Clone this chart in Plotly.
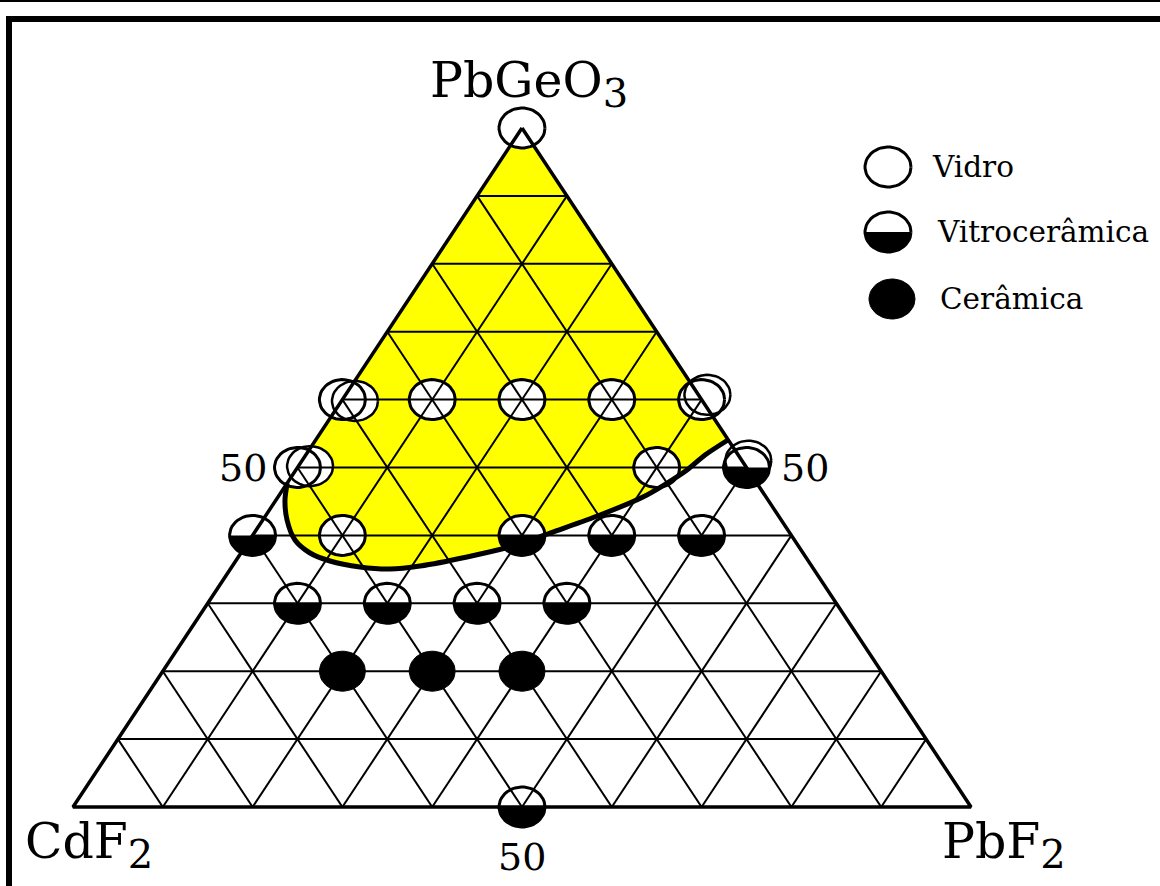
import numpy as np
import plotly.graph_objects as go

# ---------------- data (compositions in mol %) ----------------
vertex_labels = ["PbGeO<sub><span style='font-size:40px'>3</span></sub>",
                 "CdF<sub><span style='font-size:40px'>2</span></sub>",
                 "PbF<sub><span style='font-size:40px'>2</span></sub>"]
edge_tick_label = "50"
legend_labels = ["Vidro", "Vitrocerâmica", "Cerâmica"]

# PbGeO3 content and PbF2 content of each sample (CdF2 = 100 - both)
vidro_pbgeo3 = [100, 60, 60, 60, 60, 60, 50, 50, 40]
vidro_pbf2 = [0, 0, 10, 20, 30, 40, 0, 40, 10]
vitro_pbgeo3 = [50, 40, 40, 40, 40, 30, 30, 30, 30, 0]
vitro_pbf2 = [50, 0, 30, 40, 50, 10, 20, 30, 40, 50]
ceram_pbgeo3 = [20, 20, 20]
ceram_pbf2 = [20, 30, 40]

# slightly displaced duplicate circles drawn on the edges of the original figure
dup_pbgeo3 = [59.8, 50.2, 60.7, 51.0]
dup_pbf2 = [1.5, 1.3, 40.3, 49.7]

# boundary of the glass-forming (yellow) region
boundary_pbgeo3 = [54.05, 51.84, 49.63, 47.42, 45.66, 43.0, 40.35, 38.59, 36.82, 35.49,
                   35.05, 35.35, 36.23, 37.41, 39.32, 42.27, 45.21, 47.72]
boundary_pbf2 = [45.91, 44.46, 43.56, 42.10, 40.64, 37.19, 32.95, 30.15, 25.47, 20.90,
                 17.78, 14.28, 10.50, 7.69, 5.06, 2.70, 1.00, 0.0]

grid_step = 10

# ---------------- layout constants ----------------
W, H = 1160, 886
X0_PX, Y0_PX = 73.0, 807.0       # pixel of CdF2 corner
SX, SY = 8.98, 6.79              # pixels per composition unit
RX, RY = 23.0, 20.0              # marker half-width / half-height in px


def tern(a, b):
    a = np.asarray(a, float)
    b = np.asarray(b, float)
    return b + a / 2.0, a


def px2data(px, py):
    return (px - X0_PX) / SX, (Y0_PX - py) / SY


def ellipse_path(cx, cy, t0=0.0, t1=2 * np.pi, n=48):
    t = np.linspace(t0, t1, n)
    return list(cx + RX * np.cos(t) / SX), list(cy + RY * np.sin(t) / SY)


def many(xs, ys, t0=0.0, t1=2 * np.pi):
    X, Y = [], []
    for cx, cy in zip(xs, ys):
        ex, ey = ellipse_path(cx, cy, t0, t1)
        X += ex + [ex[0], None]
        Y += ey + [ey[0], None]
    return X, Y


fig = go.Figure()

# yellow glass region
bx, by = tern(boundary_pbgeo3, boundary_pbf2)
ax_, ay_ = tern([100], [0])
fx = [ax_[0]] + list(bx) + [ax_[0]]
fy = [ay_[0]] + list(by) + [ay_[0]]
fig.add_trace(go.Scatter(x=fx, y=fy, mode="lines", fill="toself", fillcolor="#FFFF00",
                         line=dict(width=0, color="#FFFF00"), hoverinfo="skip"))

vx, vy = tern(vidro_pbgeo3, vidro_pbf2)
tx, ty = tern(vitro_pbgeo3, vitro_pbf2)
cx_, cy_ = tern(ceram_pbgeo3, ceram_pbf2)
dx_, dy_ = tern(dup_pbgeo3, dup_pbf2)

# white discs under the grid
wx, wy = many(list(dx_) + list(vx) + list(tx), list(dy_) + list(vy) + list(ty))
fig.add_trace(go.Scatter(x=wx, y=wy, mode="lines", fill="toself", fillcolor="white",
                         line=dict(width=0, color="white"), hoverinfo="skip"))

# grid lines
gx, gy = [], []
for k in range(grid_step, 100, grid_step):
    x1, y1 = tern([k, k], [0, 100 - k])            # constant PbGeO3
    gx += list(x1) + [None]; gy += list(y1) + [None]
    x2, y2 = tern([0, 100 - k], [k, k])            # constant PbF2
    gx += list(x2) + [None]; gy += list(y2) + [None]
    x3, y3 = tern([0, 100 - k], [100 - k, 0])      # constant CdF2
    gx += list(x3) + [None]; gy += list(y3) + [None]
fig.add_trace(go.Scatter(x=gx, y=gy, mode="lines", line=dict(color="black", width=2),
                         hoverinfo="skip"))

# triangle outline
ox, oy = tern([100, 0, 0, 100], [0, 0, 100, 0])
fig.add_trace(go.Scatter(x=ox, y=oy, mode="lines", line=dict(color="black", width=3.5),
                         hoverinfo="skip"))

# boundary curve
fig.add_trace(go.Scatter(x=bx, y=by, mode="lines",
                         line=dict(color="black", width=5, shape="spline", smoothing=0.8),
                         hoverinfo="skip"))

# duplicate outlines (below the main symbols)
ux, uy = many(dx_, dy_)
fig.add_trace(go.Scatter(x=ux, y=uy, mode="lines", line=dict(color="black", width=2.5),
                         hoverinfo="skip"))

# black lower halves (vitroceramic) and full black (ceramic)
hx, hy = many(tx, ty, np.pi, 2 * np.pi)
fig.add_trace(go.Scatter(x=hx, y=hy, mode="lines", fill="toself", fillcolor="black",
                         line=dict(width=0, color="black"), hoverinfo="skip"))
kx, ky = many(cx_, cy_)
fig.add_trace(go.Scatter(x=kx, y=ky, mode="lines", fill="toself", fillcolor="black",
                         line=dict(width=1, color="black"), hoverinfo="skip"))

# outlines
lx, ly = many(list(vx) + list(tx), list(vy) + list(ty))
fig.add_trace(go.Scatter(x=lx, y=ly, mode="lines", line=dict(color="black", width=3),
                         hoverinfo="skip"))

# ---------------- legend (drawn by hand) ----------------
leg_px = [(888, 167), (888, 232), (892, 299)]
leg_text_px = [930, 935, 938]
ldx, ldy = zip(*[px2data(p, q) for p, q in leg_px])
ex, ey = many([ldx[0]], [ldy[0]])
fig.add_trace(go.Scatter(x=ex, y=ey, mode="lines", line=dict(color="black", width=3), hoverinfo="skip"))
ex, ey = many([ldx[1]], [ldy[1]], np.pi, 2 * np.pi)
fig.add_trace(go.Scatter(x=ex, y=ey, mode="lines", fill="toself", fillcolor="black",
                         line=dict(width=0, color="black"), hoverinfo="skip"))
ex, ey = many([ldx[1]], [ldy[1]])
fig.add_trace(go.Scatter(x=ex, y=ey, mode="lines", line=dict(color="black", width=3), hoverinfo="skip"))
ex, ey = many([ldx[2]], [ldy[2]])
fig.add_trace(go.Scatter(x=ex, y=ey, mode="lines", fill="toself", fillcolor="black",
                         line=dict(width=1, color="black"), hoverinfo="skip"))

annotations = []
for lab, (p, q), tpx in zip(legend_labels, leg_px, leg_text_px):
    ddx, ddy = px2data(tpx, q)
    annotations.append(dict(x=ddx, y=ddy, xref="x", yref="y", text=lab, showarrow=False,
                            xanchor="left", yanchor="middle",
                            font=dict(family="DejaVu Serif", size=29.5, color="black")))

serif = dict(family="DejaVu Serif", color="black")
apx, apy = tern([100], [0])
annotations.append(dict(x=apx[0], y=apy[0], xref="x", yref="y", text=vertex_labels[0],
                        showarrow=False, xanchor="center", yanchor="bottom", xshift=7, yshift=10,
                        font=dict(size=49, **serif)))
lpx, lpy = tern([0], [0])
annotations.append(dict(x=lpx[0], y=lpy[0], xref="x", yref="y", text=vertex_labels[1],
                        showarrow=False, xanchor="left", yanchor="top", xshift=-50, yshift=-4,
                        font=dict(size=49, **serif)))
rpx, rpy = tern([0], [100])
annotations.append(dict(x=rpx[0], y=rpy[0], xref="x", yref="y", text=vertex_labels[2],
                        showarrow=False, xanchor="left", yanchor="top", xshift=-31, yshift=-4,
                        font=dict(size=49, **serif)))
p1x, p1y = tern([50], [0])
annotations.append(dict(x=p1x[0], y=p1y[0], xref="x", yref="y", text=edge_tick_label,
                        showarrow=False, xanchor="right", yanchor="middle", xshift=-29,
                        font=dict(size=38, **serif)))
p2x, p2y = tern([50], [50])
annotations.append(dict(x=p2x[0], y=p2y[0], xref="x", yref="y", text=edge_tick_label,
                        showarrow=False, xanchor="left", yanchor="middle", xshift=32,
                        font=dict(size=38, **serif)))
p3x, p3y = tern([0], [50])
annotations.append(dict(x=p3x[0], y=p3y[0], xref="x", yref="y", text=edge_tick_label,
                        showarrow=False, xanchor="center", yanchor="top", yshift=-26,
                        font=dict(size=38, **serif)))

xr0, _ = px2data(0, 0)
xr1, _ = px2data(W, 0)
_, yr1 = px2data(0, 0)
_, yr0 = px2data(0, H)

shapes = [
    dict(type="rect", xref="paper", yref="paper", x0=9 / W, x1=1.02, y0=-0.02, y1=1 - 19 / H,
         line=dict(color="black", width=6)),
    dict(type="line", xref="paper", yref="paper", x0=0, x1=1, y0=1 - 1 / H, y1=1 - 1 / H,
         line=dict(color="black", width=2)),
]

fig.update_layout(
    width=W, height=H, margin=dict(l=0, r=0, t=0, b=0),
    paper_bgcolor="white", plot_bgcolor="white", showlegend=False,
    xaxis=dict(range=[xr0, xr1], visible=False, fixedrange=True),
    yaxis=dict(range=[yr0, yr1], visible=False, fixedrange=True),
    annotations=annotations, shapes=shapes,
)

fig.write_html("out.html", config={"displayModeBar": False, "staticPlot": True},
               post_script="document.body.style.margin='0';document.body.style.overflow='hidden';")
